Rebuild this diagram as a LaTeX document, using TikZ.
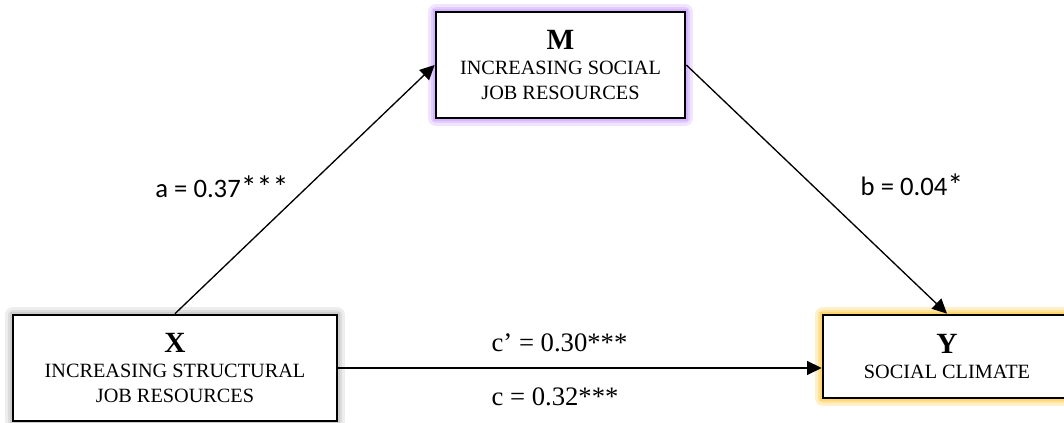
\documentclass[tikz,border=0pt]{standalone}
\usepackage{fontspec}
\setmainfont{Liberation Serif}
\newfontfamily\labelfont{Carlito}
\usetikzlibrary{arrows.meta}
\definecolor{glowM}{RGB}{205,165,255}
\definecolor{glowY}{RGB}{255,205,80}
\definecolor{glowX}{RGB}{195,195,195}
\tikzstyle{varbox}=[draw, line width=2pt, fill=white, align=center, inner sep=0pt, font=\fontsize{15.2pt}{18.75pt}\selectfont]
\tikzset{glow/.style={preaction={draw=#1, line width=12pt, line join=round, opacity=0.3},
    preaction={draw=#1, line width=8pt, line join=round, opacity=0.4},
    preaction={draw=#1, line width=5pt, opacity=0.55}}}
\tikzstyle{effect}=[-{Triangle[length=11pt,width=10.5pt]}, line width=1pt]
\tikzstyle{coef}=[font=\labelfont\fontsize{20pt}{24pt}\selectfont]
\tikzstyle{coefserif}=[font=\fontsize{20pt}{24pt}\selectfont]
\newcommand{\varname}[1]{{\fontsize{22pt}{18.75pt}\selectfont\bfseries #1}}
\newcommand{\stars}[1]{\raisebox{-0.5pt}{\fontsize{24pt}{24pt}\selectfont #1}}
\begin{document}
\begin{tikzpicture}[x=0.75pt,y=-0.75pt]
  \useasboundingbox (0,0) rectangle (1064,423);
  \clip (0,0) rectangle (1064,423);
  % variables
  \node[varbox, glow=glowM, minimum width=186.75pt, minimum height=79.5pt] (M) at (560.5,65) {\varname{M}\\INCREASING SOCIAL\\JOB RESOURCES};
  \node[varbox, glow=glowX, minimum width=243pt, minimum height=79.5pt] (X) at (175,368) {\varname{X}\\INCREASING STRUCTURAL\\JOB RESOURCES};
  \node[varbox, glow=glowY, minimum width=186pt, minimum height=62.25pt] (Y) at (947,356.5) {\varname{Y}\\SOCIAL CLIMATE};
  % paths
  \draw[effect] (X.north) -- (M.west);
  \draw[effect] (M.east) -- (Y.north);
  \draw[effect] (X.east) -- (X.east -| Y.west);
  % coefficients
  \node[coef] (a) at (222,187) {a = 0.37\stars{***}};
  \node[coef] (b) at (912,185) {b = 0.04\stars{*}};
  \node[coefserif] (cp) at (559.5,343) {c’ = 0.30***};
  \node[coefserif] (c) at (555,397) {c = 0.32***};
\end{tikzpicture}
\end{document}
